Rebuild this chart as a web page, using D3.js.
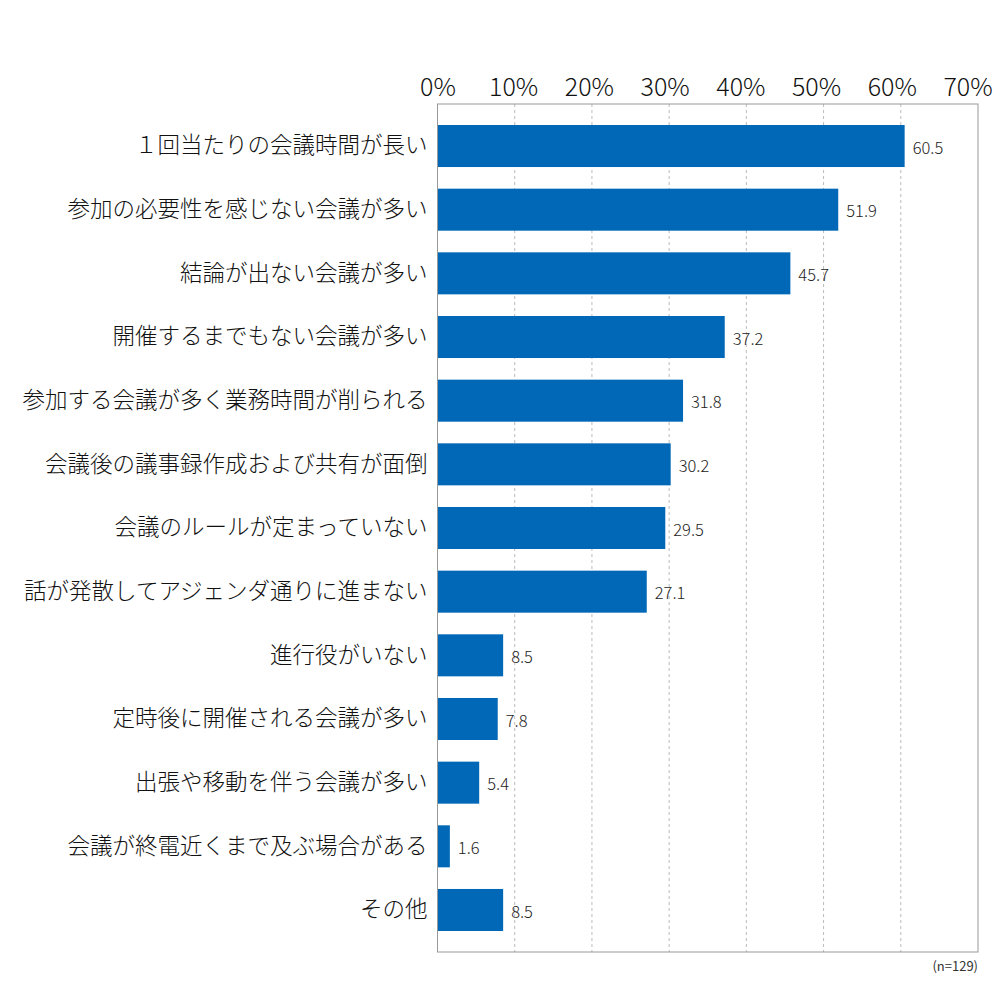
<!DOCTYPE html>
<html>
<head>
<meta charset="utf-8">
<script src="https://cdn.jsdelivr.net/npm/d3@7"></script>
<style>
  body { margin: 0; background: #fff; }
  text { font-family: "Noto Sans CJK JP", "Noto Sans", sans-serif; }
</style>
</head>
<body>
<div class="g-chart"></div>
<script>
var categories = [
  "１回当たりの会議時間が長い",
  "参加の必要性を感じない会議が多い",
  "結論が出ない会議が多い",
  "開催するまでもない会議が多い",
  "参加する会議が多く業務時間が削られる",
  "会議後の議事録作成および共有が面倒",
  "会議のルールが定まっていない",
  "話が発散してアジェンダ通りに進まない",
  "進行役がいない",
  "定時後に開催される会議が多い",
  "出張や移動を伴う会議が多い",
  "会議が終電近くまで及ぶ場合がある",
  "その他"
];
var values = [60.5, 51.9, 45.7, 37.2, 31.8, 30.2, 29.5, 27.1, 8.5, 7.8, 5.4, 1.6, 8.5];
var ticks = [0, 10, 20, 30, 40, 50, 60, 70];
var sampleNote = "(n=129)";

var width = 1000,
    height = 1000,
    margin = {top: 104, right: 22, bottom: 48, left: 437.5};

var svg = d3.select(".g-chart")
  .append("svg")
  .attr("width", width)
  .attr("height", height);

var x = d3.scaleLinear().domain([0, 70]).range([margin.left, width - margin.right]);
var y = d3.scaleBand().domain(categories)
  .range([margin.top, height - margin.bottom])
  .paddingInner(0.34)
  .paddingOuter(0.33);

// gridlines
svg.append("g")
  .selectAll("line")
  .data(ticks.slice(1, -1))
  .enter().append("line")
  .attr("x1", d => x(d)).attr("x2", d => x(d))
  .attr("y1", margin.top).attr("y2", height - margin.bottom)
  .attr("stroke", "#bbb")
  .attr("stroke-dasharray", "3,3");

// bars
svg.append("g")
  .selectAll("rect")
  .data(values)
  .enter().append("rect")
  .attr("x", x(0))
  .attr("y", (d, i) => y(categories[i]))
  .attr("width", d => x(d) - x(0))
  .attr("height", y.bandwidth())
  .attr("fill", "#0068b7");

// value labels
svg.append("g")
  .selectAll("text")
  .data(values)
  .enter().append("text")
  .attr("x", d => x(d) + 8)
  .attr("y", (d, i) => y(categories[i]) + y.bandwidth() / 2 + 2)
  .attr("dy", "0.35em")
  .attr("font-size", 16.5)
  .attr("font-weight", 300)
  .attr("fill", "#222")
  .text(d => d.toFixed(1));

// frame
svg.append("rect")
  .attr("x", margin.left)
  .attr("y", margin.top)
  .attr("width", width - margin.right - margin.left)
  .attr("height", height - margin.bottom - margin.top)
  .attr("fill", "none")
  .attr("stroke", "#999");

// top axis labels
var xAxis = d3.axisTop(x).tickValues(ticks).tickSize(0).tickPadding(0)
  .tickFormat(d => d + "%");
var gx = svg.append("g")
  .attr("transform", "translate(0," + (margin.top - 8) + ")")
  .call(xAxis);
gx.select(".domain").remove();
gx.selectAll("text")
  .attr("font-size", 25)
  .attr("font-weight", 300)
  .attr("font-family", "'Noto Sans CJK JP', sans-serif")
  .attr("fill", "#111")
  .attr("dx", (d, i) => -1.5 * i + "px");

// category labels
var yAxis = d3.axisLeft(y).tickSize(0).tickPadding(10);
var gy = svg.append("g")
  .attr("transform", "translate(" + margin.left + ",0)")
  .call(yAxis);
gy.select(".domain").remove();
gy.selectAll("text")
  .attr("font-size", 22.5)
  .attr("font-weight", 300)
  .attr("font-family", "'Noto Sans CJK JP', sans-serif")
  .attr("fill", "#111");

// sample size
svg.append("text")
  .attr("x", width - margin.right)
  .attr("y", height - margin.bottom + 19)
  .attr("text-anchor", "end")
  .attr("font-size", 13)
  .attr("fill", "#333")
  .text(sampleNote);
</script>
</body>
</html>
